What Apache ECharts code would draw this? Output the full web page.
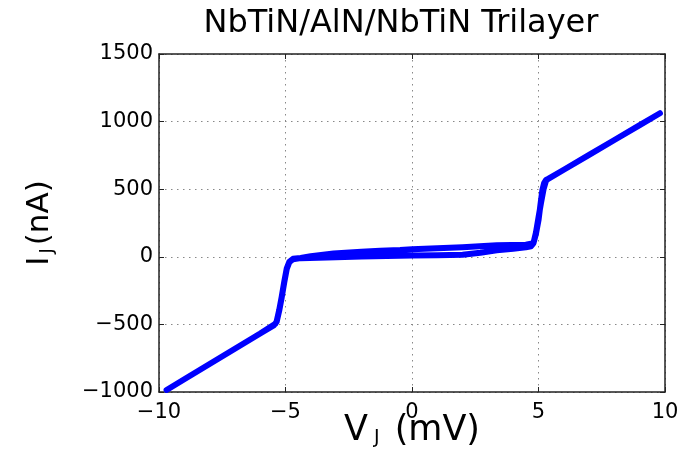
<!DOCTYPE html>
<html>
<head>
<meta charset="utf-8">
<script src="https://cdn.jsdelivr.net/npm/echarts@6/dist/echarts.min.js"></script>
<style>html,body{margin:0;padding:0;background:#fff;}#c{width:691px;height:459px;}</style>
</head>
<body>
<div id="c"></div>
<script>
// Forward sweep (lower plateau branch)
var vForward = [-9.7,-9,-8,-7,-6,-5.45,-5.4,-5.35,-5.25,-5.15,-5.05,-4.95,-4.85,-4.7,-4.4,-3,-2,-1,0,1,2,2.7,3.35,4,4.5,4.7,4.8,4.9,5.0,5.08,5.15,5.22,5.3,5.4,6,7,8,9,9.8];
var iForward = [-985,-906,-793,-680,-567,-505,-495,-480,-400,-300,-190,-90,-40,-18,-10,-3,2,6,10,12,15,30,48,60,70,78,100,170,270,390,490,545,568,578,644,754,864,974,1062];
// Backward sweep (upper plateau branch)
var vBackward = [9.8,9,8,7,6,5.4,5.3,5.2,5.1,5.0,4.9,4.8,4.5,3.35,2,0,-0.47,-1.26,-2,-3.1,-4.0,-4.4,-4.7,-4.85,-4.95,-5.05,-5.15,-5.25,-5.35,-5.4,-5.45,-6,-7,-8,-9,-9.7];
var iBackward = [1062,974,864,754,644,578,565,500,400,290,180,100,90,85,70,55,50,45,38,25,5,-8,-15,-38,-85,-185,-295,-395,-478,-495,-505,-567,-680,-793,-906,-985];
var xTicks = [-10,-5,0,5,10];
var yTicks = [-1000,-500,0,500,1000,1500];

var data = [];
for (var k = 0; k < vForward.length; k++) data.push([vForward[k], iForward[k]]);
for (var k = 0; k < vBackward.length; k++) data.push([vBackward[k], iBackward[k]]);

var FONT = '"DejaVu Sans", "Liberation Sans", Arial, sans-serif';
function fmt(v){ return String(v).replace('-', '\u2212'); }
var gridLine = {show:true, lineStyle:{color:'#888', type:[1.5,4.5], width:1}};

var chart = echarts.init(document.getElementById('c'), null, {renderer:'canvas'});
chart.setOption({
  animation:false,
  backgroundColor:'#fff',
  title:{text:'NbTiN/AlN/NbTiN Trilayer', left:396, textAlign:'center', top:3,
    textStyle:{fontFamily:FONT, fontSize:32, fontWeight:'normal', color:'#000'}},
  grid:{left:159, right:26, top:54, bottom:67, show:false, containLabel:false, outerBoundsMode:'none'},
  xAxis:[{
    type:'value', min:xTicks[0], max:xTicks[xTicks.length-1], interval:5, position:'bottom',
    axisLine:{show:true, onZero:false, lineStyle:{color:'#222', width:1.5}},
    axisTick:{show:true, inside:true, length:5, lineStyle:{color:'#222'}},
    axisLabel:{fontFamily:FONT, fontSize:21, color:'#000', margin:10, formatter:fmt},
    splitLine:gridLine,
    name:'{a|V}{s|J}{a| (mV)}', nameLocation:'middle', nameGap:21, nameMoveOverlap:false,
    nameTextStyle:{rich:{a:{fontFamily:FONT, fontSize:35, color:'#000'}, s:{fontFamily:FONT, fontSize:19, color:'#000', verticalAlign:'bottom', padding:[14,4,0,6]}}}
  },{
    type:'value', min:xTicks[0], max:xTicks[xTicks.length-1], interval:5, position:'top',
    axisLine:{show:true, onZero:false, lineStyle:{color:'#222', width:1.5}},
    axisTick:{show:true, inside:true, length:5, lineStyle:{color:'#222'}},
    axisLabel:{show:false}, splitLine:{show:false}
  }],
  yAxis:[{
    type:'value', min:yTicks[0], max:yTicks[yTicks.length-1], interval:500, position:'left',
    axisLine:{show:true, onZero:false, lineStyle:{color:'#222', width:1.5}},
    axisTick:{show:true, inside:true, length:5, lineStyle:{color:'#222'}},
    axisLabel:{fontFamily:FONT, fontSize:21, color:'#000', margin:6, formatter:fmt},
    splitLine:gridLine,
    name:'{a|I}{s|J}{a|(nA)}', nameLocation:'middle', nameGap:103, nameRotate:90, nameMoveOverlap:false,
    nameTextStyle:{rich:{a:{fontFamily:FONT, fontSize:31, color:'#000'}, s:{fontFamily:FONT, fontSize:18, color:'#000', verticalAlign:'bottom', padding:[14,3,0,3]}}}
  },{
    type:'value', min:yTicks[0], max:yTicks[yTicks.length-1], interval:500, position:'right',
    axisLine:{show:true, onZero:false, lineStyle:{color:'#222', width:1.5}},
    axisTick:{show:true, inside:true, length:5, lineStyle:{color:'#222'}},
    axisLabel:{show:false}, splitLine:{show:false}
  }],
  series:[{
    type:'line', data:data, showSymbol:false, smooth:false,
    lineStyle:{color:'#0000ff', width:6, cap:'round', join:'round'},
    itemStyle:{color:'#0000ff'}
  }]
});
</script>
</body>
</html>
